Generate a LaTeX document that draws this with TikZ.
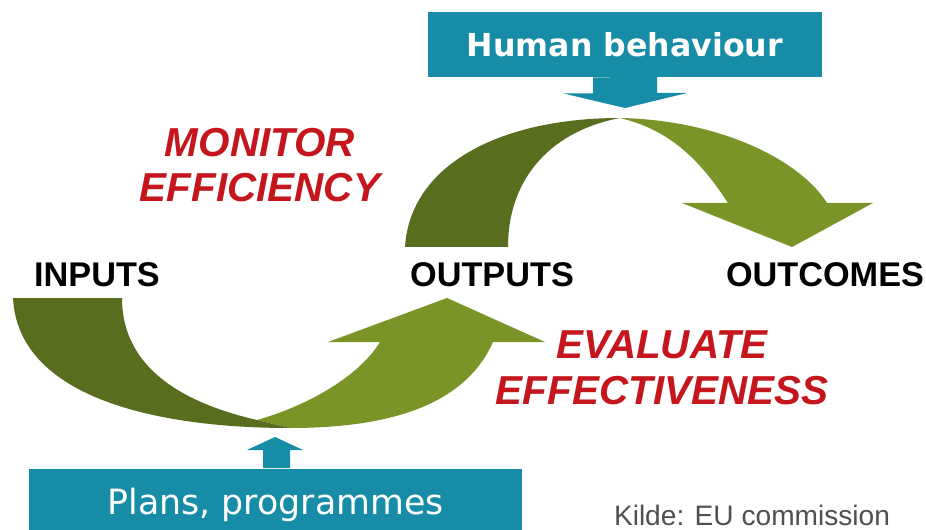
\documentclass[tikz,border=0pt]{standalone}
\usepackage{fontspec}
\setmainfont{Liberation Sans}
\newfontfamily\dejavu{DejaVu Sans}
\usepackage{tikz}
\usetikzlibrary{positioning,calc}
\definecolor{boxblue}{RGB}{22,140,166}
\definecolor{leafgreen}{RGB}{122,148,39}
\definecolor{darkleaf}{RGB}{88,110,30}
\definecolor{alertred}{RGB}{196,22,28}
\definecolor{notegray}{RGB}{80,80,80}
\tikzstyle{bluebox}=[fill=boxblue,text=white,inner sep=0pt]
\tikzstyle{stage}=[font=\fontsize{19.5}{22}\selectfont\bfseries]
\tikzstyle{task}=[text=alertred,align=center,font=\fontsize{23}{26}\selectfont\bfseries\itshape]

\begin{document}
\begin{tikzpicture}[x=0.02cm,y=-0.02cm]
    \clip (0,0) rectangle (926,530);
    \fill[white] (0,0) rectangle (926,530);

    % top arch: outputs -> outcomes
    \fill[leafgreen] (620,118) .. controls (720,120) and (800,160) .. (827,203)
        -- (873,203) -- (792,247) -- (682,203) -- (728,203)
        .. controls (700,160) and (670,130) .. (620,118) -- cycle;
    \fill[darkleaf] (405,247) .. controls (410,165) and (500,118) .. (620,118)
        .. controls (555,130) and (508,175) .. (508,247) -- cycle;

    % bottom bow: inputs -> outputs
    \fill[leafgreen] (257,420) .. controls (310,405) and (360,375) .. (380,342)
        -- (328,342) -- (447,298) -- (545,342) -- (493,342)
        .. controls (465,405) and (390,428) .. (290,428) -- cycle;
    \fill[darkleaf] (13,298) -- (122,298) .. controls (122,360) and (170,400) .. (257,420)
        -- (290,428) .. controls (150,428) and (18,395) .. (13,298) -- cycle;

    % influence boxes
    \node[bluebox,minimum width=7.88cm,minimum height=1.3cm,
          font=\dejavu\fontsize{18}{20}\selectfont\bfseries] (human) at (625,44.5) {Human behaviour};
    \fill[boxblue] ($(human.south)+(-32,0)$) -- ++(0,16) -- ++(-30,0) -- (625,108)
        -- ++(62,-15) -- ++(-30,0) -- ++(0,-16) -- cycle;

    \node[bluebox,minimum width=9.86cm,minimum height=1.44cm,
          font=\dejavu\fontsize{19.8}{22}\selectfont] (plans) at (275.5,505) {Plans, programmes};
    \fill[boxblue] (263,468) -- (263,450) -- (247,450) -- (275,437)
        -- (303,450) -- (290,450) -- (290,468) -- cycle;

    % stages
    \node[stage] (inputs)   at (97,275)  {INPUTS};
    \node[stage] (outputs)  at (492,275) {OUTPUTS};
    \node[stage] (outcomes) at (825,275) {OUTCOMES};

    \node[task] (monitor)  at (260,165) {MONITOR\\EFFICIENCY};
    \node[task] (evaluate) at (662,368) {EVALUATE\\EFFECTIVENESS};

    \node[text=notegray,font=\fontsize{16}{18}\selectfont] (source) at (752,515) {Kilde: EU commission};
\end{tikzpicture}
\end{document}
